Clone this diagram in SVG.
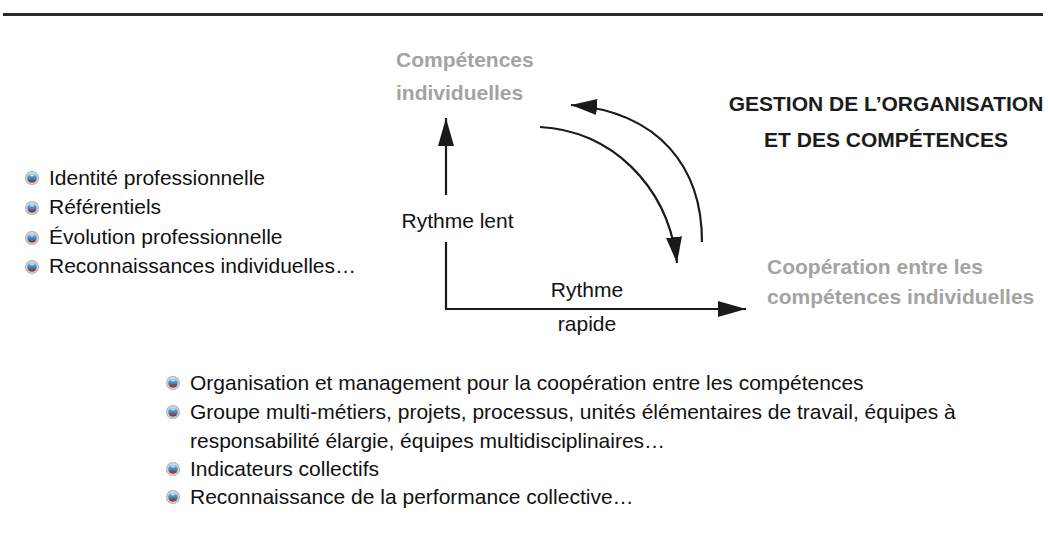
<svg xmlns="http://www.w3.org/2000/svg" width="1048" height="535" viewBox="0 0 1048 535">
<defs>
<radialGradient id="ring" cx="0.5" cy="0.5" r="0.5">
<stop offset="0.6" stop-color="#f2f2f2"/>
<stop offset="1" stop-color="#a8a8a8"/>
</radialGradient>
<linearGradient id="ball" x1="0" y1="0" x2="0" y2="1">
<stop offset="0" stop-color="#b8def5"/>
<stop offset="0.35" stop-color="#4a9ad6"/>
<stop offset="0.6" stop-color="#3a7fb8"/>
<stop offset="0.7" stop-color="#8a4a52"/>
<stop offset="1" stop-color="#8a3a3c"/>
</linearGradient>
<g id="bullet">
<circle r="7" fill="url(#ring)"/>
<circle r="4.8" fill="url(#ball)"/>
<ellipse cx="0" cy="-2.6" rx="2.2" ry="1" fill="#ffffff" opacity="0.55"/>
</g>
<marker id="ah" viewBox="0 0 28 16" refX="28" refY="8" markerWidth="28" markerHeight="16" markerUnits="userSpaceOnUse" orient="auto">
<path d="M0,0 L28,8 L0,16 Z" fill="#1a1a1a"/>
</marker>
<marker id="ahc" viewBox="0 0 26 16" refX="26" refY="8" markerWidth="26" markerHeight="16" markerUnits="userSpaceOnUse" orient="auto">
<path d="M0,0 L26,8 L0,16 Z" fill="#1a1a1a"/>
</marker>
</defs>
<style>
text{font-family:"Liberation Sans",Arial,sans-serif;}
.item{font-size:21px;fill:#111;}
.lbl{font-size:21px;fill:#111;}
.gray{font-size:21px;font-weight:bold;fill:#a3a3a3;}
.title{font-size:21px;font-weight:bold;fill:#1c1c1c;}
.ax{stroke:#1a1a1a;stroke-width:2.2;fill:none;}
</style>
<rect width="1048" height="535" fill="#ffffff"/>
<line x1="3" y1="14.5" x2="1043" y2="14.5" stroke="#2a2a2a" stroke-width="3"/>

<g id="connectors">
<line class="ax" x1="446" y1="195" x2="446" y2="118" marker-end="url(#ah)"/>
<polyline class="ax" points="446,242 446,309 746,309" marker-end="url(#ah)"/>
<path class="ax" d="M540,127 C610,130 668,185 677,263" marker-end="url(#ahc)"/>
<path class="ax" d="M702,242 C702,168 660,112 571,105" marker-end="url(#ahc)"/>
</g>

<g id="node-competences">
<text class="gray" x="396" y="67">Compétences</text>
<text class="gray" x="396" y="100">individuelles</text>
</g>
<g id="node-cooperation">
<text class="gray" x="767" y="274">Coopération entre les</text>
<text class="gray" x="767" y="304">compétences individuelles</text>
</g>
<g id="node-title">
<text class="title" x="886" y="111" text-anchor="middle">GESTION DE L’ORGANISATION</text>
<text class="title" x="886" y="147" text-anchor="middle">ET DES COMPÉTENCES</text>
</g>
<g id="node-rythme-lent">
<text class="lbl" x="457.5" y="228" text-anchor="middle">Rythme lent</text>
</g>
<g id="node-rythme-rapide">
<text class="lbl" x="587" y="297" text-anchor="middle">Rythme</text>
<text class="lbl" x="587" y="331" text-anchor="middle">rapide</text>
</g>
<g id="node-left-list">
<use href="#bullet" x="32" y="178"/>
<text class="item" x="49" y="184.5">Identité professionnelle</text>
<use href="#bullet" x="32" y="208"/>
<text class="item" x="49" y="214">Référentiels</text>
<use href="#bullet" x="32" y="238"/>
<text class="item" x="49" y="244">Évolution professionnelle</text>
<use href="#bullet" x="32" y="267"/>
<text class="item" x="49" y="273">Reconnaissances individuelles…</text>
</g>
<g id="node-bottom-list">
<use href="#bullet" x="173" y="383"/>
<text class="item" x="190" y="390">Organisation et management pour la coopération entre les compétences</text>
<use href="#bullet" x="173" y="412"/>
<text class="item" x="190" y="419">Groupe multi-métiers, projets, processus, unités élémentaires de travail, équipes à</text>
<text class="item" x="190" y="448">responsabilité élargie, équipes multidisciplinaires…</text>
<use href="#bullet" x="173" y="469"/>
<text class="item" x="190" y="476">Indicateurs collectifs</text>
<use href="#bullet" x="173" y="497"/>
<text class="item" x="190" y="504">Reconnaissance de la performance collective…</text>
</g>
</svg>
